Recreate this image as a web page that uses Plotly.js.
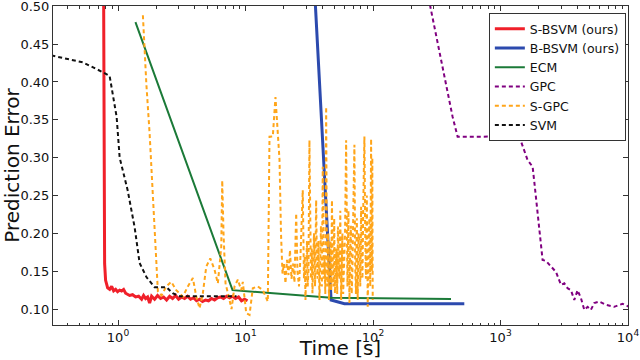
<!DOCTYPE html>
<html>
<head>
<meta charset="utf-8">
<script src="https://cdn.plot.ly/plotly-3.0.1.min.js"></script>
<style>
  html, body { margin: 0; padding: 0; background: #fff; }
  #chart { width: 640px; height: 360px; }
</style>
</head>
<body>
<div id="chart"></div>
<script>
// S-BSVM (ours)
const sbsvmT = [0.771, 0.785, 0.799, 0.814, 0.829, 0.860, 0.891, 0.924, 0.958, 0.993,
  1.029, 1.067, 1.106, 1.147, 1.189, 1.233, 1.301, 1.374, 1.450, 1.531, 1.587, 1.645,
  1.706, 1.769, 1.834, 1.936, 2.043, 2.158, 2.278, 2.404, 2.538, 2.679, 2.828, 2.986,
  3.151, 3.326, 3.512, 3.707, 3.913, 4.130, 4.360, 4.603, 4.859, 5.129, 5.414, 5.716,
  6.033, 6.369, 6.723, 7.097, 7.492, 7.909, 8.349, 8.814, 9.305, 9.822, 10.37];
const sbsvmErr = [0.52, 0.16, 0.138, 0.132, 0.128, 0.126, 0.130, 0.124, 0.126, 0.123,
  0.125, 0.124, 0.126, 0.121, 0.120, 0.118, 0.119, 0.116, 0.117, 0.113, 0.118, 0.114,
  0.116, 0.108, 0.117, 0.113, 0.118, 0.114, 0.116, 0.112, 0.117, 0.114, 0.118, 0.113,
  0.116, 0.114, 0.117, 0.113, 0.115, 0.111, 0.113, 0.110, 0.112, 0.111, 0.114, 0.112,
  0.115, 0.116, 0.114, 0.117, 0.115, 0.117, 0.114, 0.116, 0.111, 0.113, 0.111];

// B-BSVM (ours)
const bbsvmT = [34.85, 46.9, 59.7, 520];
const bbsvmErr = [0.52, 0.112, 0.107, 0.107];

// ECM
const ecmT = [1.37, 7.91, 46.9, 409];
const ecmErr = [0.479, 0.125, 0.115, 0.1135];

// GPC
const gpcT = [266, 285, 331, 374, 421, 461, 1403, 1630, 1786, 1841, 2138, 2274, 2489,
  2725, 2981, 3164, 3358, 3570, 3791, 4022, 4276, 4540, 4820, 5118, 5433, 5943, 6711,
  7796, 9057, 10200];
const gpcErr = [0.52, 0.495, 0.442, 0.394, 0.354, 0.3276, 0.328, 0.297, 0.288, 0.268,
  0.165, 0.1636, 0.156, 0.149, 0.132, 0.134, 0.1276, 0.125, 0.112, 0.125, 0.1144, 0.099,
  0.103, 0.099, 0.108, 0.110, 0.1056, 0.103, 0.107, 0.103];

// S-GPC
const sgpcT = [1.567, 1.667, 1.769, 1.877, 1.996, 2.055, 2.196, 2.390, 2.617, 2.863,
  3.226, 3.530, 3.864, 4.108, 4.360, 4.628, 4.920, 5.289, 5.716, 6.067, 6.450, 6.567,
  6.723, 6.970, 7.492, 7.768, 8.200, 8.705, 9.254, 9.525, 10.13, 10.75, 11.41, 12.49,
  13.66, 14.96, 15.42, 16.37, 17.18,
  18.48, 18.98, 19.50, 20.03, 20.58, 21.15, 21.73, 22.32, 22.94, 23.57, 24.21, 24.97,
  25.56, 26.27, 26.98, 28.12, 28.43, 28.74, 29.13, 29.53, 29.93, 30.34, 30.75, 31.17,
  31.73, 32.16, 32.60, 33.05, 33.50, 33.96, 34.42, 35.11, 35.82, 36.24, 36.67, 37.34,
  38.02, 38.54, 39.06, 39.70, 40.35, 40.98, 41.61, 42.26, 42.91, 43.41, 43.92, 44.52,
  45.12, 45.74, 46.37, 47.00, 47.64, 48.29, 48.94, 49.61, 50.28, 50.97, 51.66, 52.37,
  53.08, 53.80, 54.53, 55.38, 56.23, 56.90, 57.57, 58.35, 59.14, 60.33, 61.54, 62.27,
  63.00, 64.15, 65.32, 66.21, 67.11, 68.03, 68.95, 70.20, 71.48, 72.46, 73.45, 74.66,
  75.88, 77.05, 78.24, 79.44, 80.67, 81.63, 82.60, 84.10, 85.62, 86.79, 87.97, 89.41,
  90.88, 92.28, 93.70, 95.15, 96.63, 97.33, 98.03, 98.75, 99.47];
const sgpcErr = [0.488, 0.398, 0.332, 0.244, 0.156, 0.123, 0.118, 0.130, 0.136, 0.125,
  0.1165, 0.130, 0.141, 0.1165, 0.101, 0.121, 0.156, 0.167, 0.152, 0.134, 0.182, 0.270,
  0.200, 0.134, 0.112, 0.100, 0.130, 0.139, 0.125, 0.136, 0.0946, 0.0924, 0.1276, 0.130,
  0.125, 0.110, 0.3276, 0.328, 0.380,
  0.297, 0.200, 0.147, 0.160, 0.134, 0.165, 0.145, 0.178, 0.140, 0.160, 0.135, 0.2265,
  0.150, 0.130, 0.170, 0.257, 0.150, 0.140, 0.170, 0.112, 0.150, 0.190, 0.130, 0.150,
  0.323, 0.180, 0.140, 0.180, 0.121, 0.160, 0.200, 0.130, 0.244, 0.170, 0.140, 0.190,
  0.112, 0.160, 0.210, 0.130, 0.288, 0.140, 0.170, 0.120, 0.367, 0.180, 0.130, 0.200,
  0.112, 0.150, 0.190, 0.125, 0.244, 0.160, 0.130, 0.220, 0.121, 0.150, 0.180, 0.120,
  0.209, 0.160, 0.140, 0.230, 0.112, 0.160, 0.200, 0.120, 0.150, 0.200, 0.323, 0.150,
  0.130, 0.230, 0.108, 0.180, 0.210, 0.120, 0.150, 0.240, 0.317, 0.160, 0.120, 0.220,
  0.112, 0.200, 0.190, 0.130, 0.235, 0.170, 0.140, 0.250, 0.328, 0.200, 0.140, 0.250,
  0.103, 0.180, 0.220, 0.130, 0.325, 0.200, 0.150, 0.300, 0.112];

// SVM
const svmT = [0.30, 0.528, 0.757, 0.859, 0.975, 1.03, 1.19, 1.35, 1.476, 1.675, 1.935,
  2.40, 2.68, 3.04, 8.5];
const svmErr = [0.435, 0.426, 0.413, 0.408, 0.354, 0.30, 0.257, 0.208, 0.161, 0.142,
  0.129, 0.129, 0.121, 0.117, 0.117];

// axis ticks
const xMajor = [1, 10, 100, 1000, 10000];
const xMajorText = ["10<sup>0</sup>", "10<sup>1</sup>", "10<sup>2</sup>", "10<sup>3</sup>", "10<sup>4</sup>"];
const xMinor = [0.4, 0.5, 0.6, 0.7, 0.8, 0.9, 2, 3, 4, 5, 6, 7, 8, 9,
  20, 30, 40, 50, 60, 70, 80, 90, 200, 300, 400, 500, 600, 700, 800, 900,
  2000, 3000, 4000, 5000, 6000, 7000, 8000, 9000];
const yTicks = [0.10, 0.15, 0.20, 0.25, 0.30, 0.35, 0.40, 0.45, 0.50];

const traces = [];

function addLine(x, y, name, color, width, dash) {
  traces.push({
    x: x,
    y: y,
    mode: "lines",
    name: name,
    line: { color: color, width: width, dash: dash || "solid" },
  });
}

addLine(sbsvmT, sbsvmErr, "S-BSVM (ours)", "#f0202a", 3);
addLine(bbsvmT, bbsvmErr, "B-BSVM (ours)", "#2c4aae", 3);
addLine(ecmT, ecmErr, "ECM", "#1b7a38", 2);
addLine(gpcT, gpcErr, "GPC", "#800080", 2, "4px,3px");
addLine(sgpcT, sgpcErr, "S-GPC", "#ffa51a", 2, "4px,3px");
addLine(svmT, svmErr, "SVM", "#111111", 2, "4px,3px");

const axisFont = { family: "DejaVu Sans", size: 13, color: "#111" };
const titleFont = { family: "DejaVu Sans", size: 20, color: "#111" };

const layout = {
  width: 640,
  height: 360,
  margin: { l: 53, r: 12, t: 6, b: 35 },
  paper_bgcolor: "#fff",
  plot_bgcolor: "#fff",
  font: axisFont,
  showlegend: true,
  xaxis: {
    type: "log",
    range: [-0.51, 4.0],
    tickvals: xMajor,
    ticktext: xMajorText,
    ticks: "inside",
    ticklen: 5,
    tickcolor: "#333",
    showline: true,
    linecolor: "#333",
    linewidth: 1,
    mirror: "ticks",
    showgrid: false,
    zeroline: false,
    tickfont: axisFont,
    ticklabeloverflow: "allow",
    minor: { tickvals: xMinor, ticks: "inside", ticklen: 2.5, tickcolor: "#333", showgrid: false },
    title: { text: "Time [s]", font: titleFont, standoff: 6 },
  },
  yaxis: {
    range: [0.079, 0.5003],
    tickvals: yTicks,
    tickformat: ".2f",
    ticks: "inside",
    ticklen: 5,
    tickcolor: "#333",
    showline: true,
    linecolor: "#333",
    linewidth: 1,
    mirror: "ticks",
    showgrid: false,
    zeroline: false,
    tickfont: axisFont,
    ticklabeloverflow: "allow",
    title: { text: "Prediction Error", font: titleFont, standoff: 6 },
  },
  legend: {
    x: 0.758,
    y: 0.978,
    xanchor: "left",
    yanchor: "top",
    bgcolor: "#fff",
    bordercolor: "#333",
    borderwidth: 1,
    font: { family: "DejaVu Sans", size: 12.5, color: "#111" },
    tracegroupgap: 0,
  },
};

Plotly.newPlot("chart", traces, layout, { displayModeBar: false, staticPlot: true });
</script>
</body>
</html>
